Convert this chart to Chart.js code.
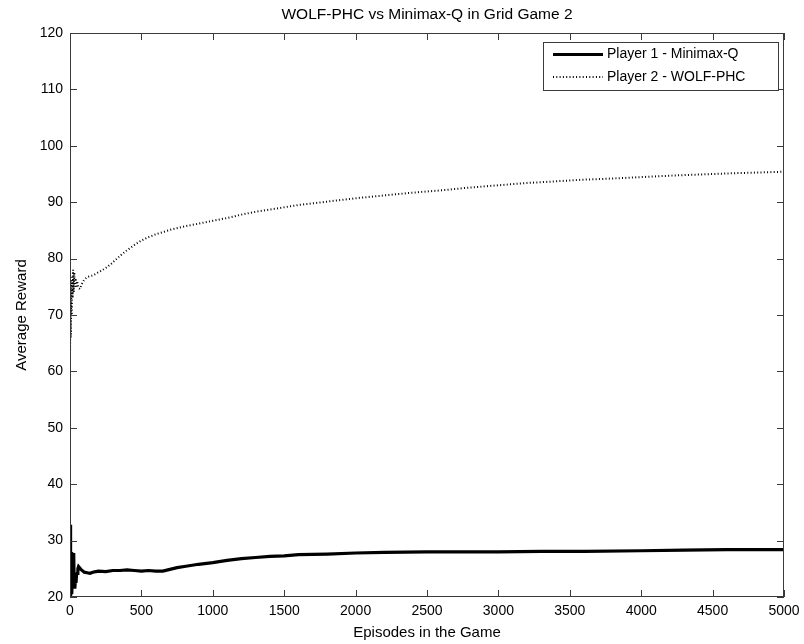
<!DOCTYPE html>
<html>
<head>
<meta charset="utf-8">
<title>WOLF-PHC vs Minimax-Q in Grid Game 2</title>
<script src="https://cdn.jsdelivr.net/npm/chart.js@4.4.1/dist/chart.umd.min.js"></script>
<style>
  html, body { margin: 0; padding: 0; background: #fff; }
  #wrap { width: 804px; height: 644px; }
</style>
</head>
<body>
<div id="wrap"><canvas id="chart" width="804" height="644"></canvas></div>
<script>
// Player 1 (Minimax-Q) running average reward
const p1Episodes = [0, 2, 4, 6, 8, 10, 12, 14, 16, 18, 20, 23, 26, 29, 32, 35, 38, 42, 46, 50,
  55, 60, 70, 80, 90, 100, 120, 140, 160, 180, 200, 250, 300, 350, 400, 450, 500, 550, 600, 650,
  700, 750, 800, 900, 1000, 1100, 1200, 1300, 1400, 1500, 1600, 1800, 2000, 2200, 2500, 2800,
  3000, 3300, 3600, 4000, 4300, 4600, 5000];
const p1Reward = [32.8, 20, 27, 20.5, 24, 21, 28, 20.5, 23, 21.5, 26, 22, 27.8, 22.5, 24, 21.5, 23, 22.5, 24, 24.2,
  25, 25.4, 25.1, 24.8, 24.6, 24.4, 24.3, 24.2, 24.4, 24.5, 24.6, 24.5, 24.7, 24.7, 24.8, 24.7, 24.6, 24.7, 24.6, 24.6,
  24.9, 25.2, 25.4, 25.8, 26.1, 26.5, 26.8, 27.0, 27.2, 27.3, 27.5, 27.6, 27.8, 27.9, 28.0, 28.0,
  28.0, 28.1, 28.1, 28.2, 28.3, 28.4, 28.4];

// Player 2 (WOLF-PHC) running average reward
const p2Episodes = [0, 3, 6, 9, 12, 15, 18, 22, 26, 30, 35, 40, 45, 50, 55, 60, 70, 80, 90, 100,
  120, 140, 160, 180, 200, 230, 260, 290, 320, 360, 400, 450, 500, 550, 600, 650, 700, 800, 900,
  1000, 1100, 1200, 1300, 1400, 1500, 1600, 1800, 2000, 2200, 2400, 2600, 2800, 3000, 3200, 3400,
  3600, 3800, 4000, 4200, 4400, 4600, 4800, 5000];
const p2Reward = [62, 72, 66, 76, 70, 77, 73, 78, 74, 77.5, 75, 76.5, 74.8, 76, 75.2, 74.8, 74.6, 75.4, 75.8, 76.3,
  76.7, 76.9, 77.0, 77.3, 77.6, 78.0, 78.5, 79.1, 79.8, 80.7, 81.5, 82.4, 83.2, 83.8, 84.3, 84.7, 85.1, 85.7, 86.2,
  86.7, 87.2, 87.8, 88.3, 88.7, 89.1, 89.5, 90.1, 90.7, 91.2, 91.7, 92.1, 92.6, 93.0, 93.4, 93.7,
  94.0, 94.2, 94.45, 94.7, 94.9, 95.1, 95.25, 95.4];

const seriesNames = ['Player 1 - Minimax-Q', 'Player 2 - WOLF-PHC'];
const xTicks = [0, 500, 1000, 1500, 2000, 2500, 3000, 3500, 4000, 4500, 5000];
const yTicks = [20, 30, 40, 50, 60, 70, 80, 90, 100, 110, 120];
const chartTitle = 'WOLF-PHC vs Minimax-Q in Grid Game 2';

const font = 'Liberation Sans, Arial, sans-serif';
const axisColor = '#3a3a3a';

const toPoints = (xs, ys) => xs.map((x, i) => ({ x, y: ys[i] }));

// title centred over the plot area rather than the whole canvas
const plotTitle = {
  id: 'plotTitle',
  afterDraw(chart) {
    const { ctx, chartArea: a } = chart;
    ctx.save();
    ctx.font = '15.5px ' + font;
    ctx.fillStyle = '#000';
    ctx.textAlign = 'center';
    ctx.textBaseline = 'middle';
    ctx.fillText(chartTitle, (a.left + a.right) / 2, 15);
    ctx.restore();
  }
};

// box around the plot with inward tick marks on all four sides
const frameTicks = {
  id: 'frameTicks',
  afterDraw(chart) {
    const { ctx, chartArea: a, scales } = chart;
    const len = 7;
    ctx.save();
    ctx.strokeStyle = axisColor;
    ctx.lineWidth = 1;
    ctx.strokeRect(a.left + 0.5, a.top + 0.5, a.right - a.left - 1, a.bottom - a.top - 1);
    ctx.beginPath();
    xTicks.forEach(v => {
      const px = Math.round(scales.x.getPixelForValue(v)) + 0.5;
      ctx.moveTo(px, a.bottom); ctx.lineTo(px, a.bottom - len);
      ctx.moveTo(px, a.top); ctx.lineTo(px, a.top + len);
    });
    yTicks.forEach(v => {
      const py = Math.round(scales.y.getPixelForValue(v)) + 0.5;
      ctx.moveTo(a.left, py); ctx.lineTo(a.left + len, py);
      ctx.moveTo(a.right, py); ctx.lineTo(a.right - len, py);
    });
    ctx.stroke();
    ctx.restore();
  }
};

// legend box in the upper right corner of the plot
const boxLegend = {
  id: 'boxLegend',
  afterDraw(chart) {
    const { ctx, chartArea: a } = chart;
    const w = 235, h = 48;
    const x0 = a.right - 6 - w, y0 = a.top + 9;
    ctx.save();
    ctx.fillStyle = '#fff';
    ctx.fillRect(x0, y0, w, h);
    ctx.strokeStyle = axisColor;
    ctx.lineWidth = 1;
    ctx.strokeRect(x0 + 0.5, y0 + 0.5, w, h);
    ctx.font = '14px ' + font;
    ctx.textBaseline = 'middle';
    chart.data.datasets.forEach((ds, i) => {
      const y = y0 + 12.5 + i * 22.5;
      ctx.beginPath();
      ctx.strokeStyle = ds.borderColor;
      ctx.lineWidth = ds.borderWidth;
      ctx.setLineDash(ds.borderDash || []);
      ctx.moveTo(x0 + 10, y);
      ctx.lineTo(x0 + 60, y);
      ctx.stroke();
      ctx.setLineDash([]);
      ctx.fillStyle = '#000';
      ctx.fillText(ds.label, x0 + 64, y);
    });
    ctx.restore();
  }
};

new Chart(document.getElementById('chart'), {
  type: 'line',
  data: {
    datasets: [
      {
        label: seriesNames[0],
        data: toPoints(p1Episodes, p1Reward),
        borderColor: '#000',
        borderWidth: 3.2,
        pointRadius: 0,
        tension: 0
      },
      {
        label: seriesNames[1],
        data: toPoints(p2Episodes, p2Reward),
        borderColor: '#000',
        borderWidth: 2,
        borderDash: [1, 2.3],
        pointRadius: 0,
        tension: 0
      }
    ]
  },
  options: {
    responsive: false,
    animation: false,
    layout: { padding: { left: 0, right: 20, top: 33, bottom: 0 } },
    plugins: {
      legend: { display: false },
      tooltip: { enabled: false },
      title: { display: false }
    },
    scales: {
      x: {
        type: 'linear',
        min: 0,
        max: 5000,
        afterBuildTicks: s => { s.ticks = xTicks.map(value => ({ value })); },
        afterFit: s => { s.height = 47; s.paddingLeft = 0; s.paddingRight = 0; },
        grid: { display: false, drawTicks: false },
        border: { display: false },
        ticks: {
          color: '#000', padding: 6, maxRotation: 0,
          font: { family: font, size: 14 },
          callback: v => String(v)
        },
        title: {
          display: true,
          text: 'Episodes in the Game',
          color: '#000',
          font: { family: font, size: 15 },
          padding: { top: 0, bottom: 2 }
        }
      },
      y: {
        type: 'linear',
        min: 20,
        max: 120,
        afterBuildTicks: s => { s.ticks = yTicks.map(value => ({ value })); },
        afterFit: s => { s.width = 70; s.paddingTop = 0; s.paddingBottom = 0; },
        grid: { display: false, drawTicks: false },
        border: { display: false },
        ticks: {
          color: '#000', padding: 7,
          font: { family: font, size: 14 },
          callback: v => String(v)
        },
        title: {
          display: true,
          text: 'Average Reward',
          color: '#000',
          font: { family: font, size: 15 },
          padding: { top: 13, bottom: 0 }
        }
      }
    }
  },
  plugins: [plotTitle, frameTicks, boxLegend]
});
</script>
</body>
</html>
